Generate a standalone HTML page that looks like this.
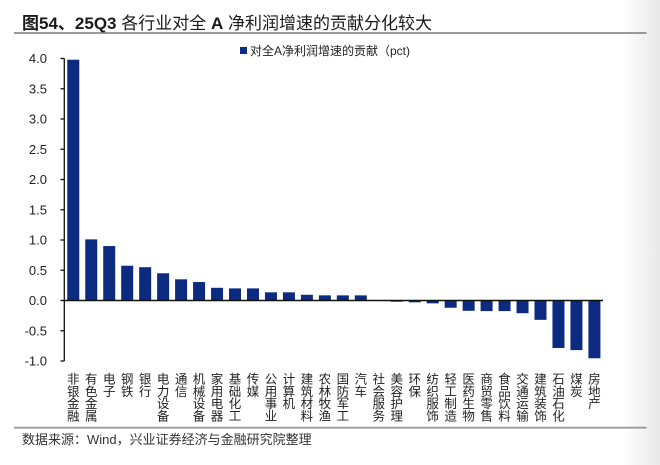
<!DOCTYPE html>
<html><head><meta charset="utf-8"><style>
html,body{margin:0;padding:0;background:#fff;}
body{width:660px;height:465px;overflow:hidden;position:relative;font-family:"Liberation Sans","Noto Sans CJK SC",sans-serif;}
.grad{position:absolute;left:622px;top:0;width:38px;height:465px;background:linear-gradient(to right,rgba(236,236,236,0),#e9e9e9);}
</style></head><body>
<div class="grad"></div>
<svg width="660" height="465" viewBox="0 0 660 465" xmlns="http://www.w3.org/2000/svg" style="position:absolute;left:0;top:0;font-family:'Liberation Sans','Noto Sans CJK SC',sans-serif;">
<text x="22" y="29" font-size="17" fill="#1a1a1a"><tspan font-weight="bold">图54、25Q3</tspan> 各行业对全 <tspan font-weight="bold">A</tspan> 净利润增速的贡献分化较大</text>
<line x1="14" y1="33" x2="646.5" y2="33" stroke="#7a7a7a" stroke-width="1.4"/>
<rect x="240" y="47" width="7" height="7" fill="#0b2a80"/>
<text x="250" y="55" font-size="12" fill="#222">对全A净利润增速的贡献（pct)</text>
<g font-size="13" fill="#222" text-anchor="end" id="yt"></g>
<g id="bars"></g>
<g id="xl" font-size="12.5" fill="#222" text-anchor="middle"></g>
<line x1="14" y1="427.7" x2="646.5" y2="427.7" stroke="#9a9a9a" stroke-width="1.8"/>
<text x="22" y="444" font-size="13" fill="#333">数据来源：Wind，兴业证券经济与金融研究院整理</text>
</svg>
<script>
(function(){
var ns="http://www.w3.org/2000/svg";
var Y0=300.5,S=60.5,AX=64.3,W=17.97;
var yt=document.getElementById('yt'),bars=document.getElementById('bars'),xl=document.getElementById('xl');
function el(t,a,p){var e=document.createElementNS(ns,t);for(var k in a)e.setAttribute(k,a[k]);p.appendChild(e);return e;}
var labs=["非银金融","有色金属","电子","钢铁","银行","电力设备","通信","机械设备","家用电器","基础化工","传媒","公用事业","计算机","建筑材料","农林牧渔","国防军工","汽车","社会服务","美容护理","环保","纺织服饰","轻工制造","医药生物","商贸零售","食品饮料","交通运输","建筑装饰","石油石化","煤炭","房地产"];
var vals=[3.98,1.01,0.90,0.575,0.55,0.45,0.35,0.305,0.21,0.20,0.20,0.135,0.135,0.095,0.085,0.085,0.085,0.003,-0.02,-0.03,-0.047,-0.12,-0.17,-0.175,-0.175,-0.21,-0.32,-0.785,-0.82,-0.955];
for(var i=0;i<30;i++){
 var cx=AX+(i+0.5)*W,v=vals[i],h=Math.abs(v)*S,y=v>=0?Y0-h:Y0;
 el('rect',{x:(cx-6).toFixed(2),y:y.toFixed(2),width:12,height:h.toFixed(2),fill:'#0b2a80'},bars);
 var s=labs[i];
 for(var j=0;j<s.length;j++){var t=el('text',{x:cx.toFixed(2),y:(383.5+j*12.3).toFixed(2)},xl);t.textContent=s[j];}
}
var ticks=[4.0,3.5,3.0,2.5,2.0,1.5,1.0,0.5,0.0,-0.5,-1.0];
ticks.forEach(function(v){var y=Y0-v*S;
 el('line',{x1:60.5,y1:y,x2:AX,y2:y,stroke:'#111','stroke-width':1.3},bars);
 var t=el('text',{x:47,y:(y+4.5).toFixed(2)},yt);t.textContent=v.toFixed(1);
});
el('line',{x1:AX,y1:Y0-4*S,x2:AX,y2:Y0+1*S,stroke:'#111','stroke-width':1.3},bars);
el('line',{x1:AX,y1:Y0,x2:603,y2:Y0,stroke:'#111','stroke-width':1.5},bars);
})();
</script>
</body></html>
